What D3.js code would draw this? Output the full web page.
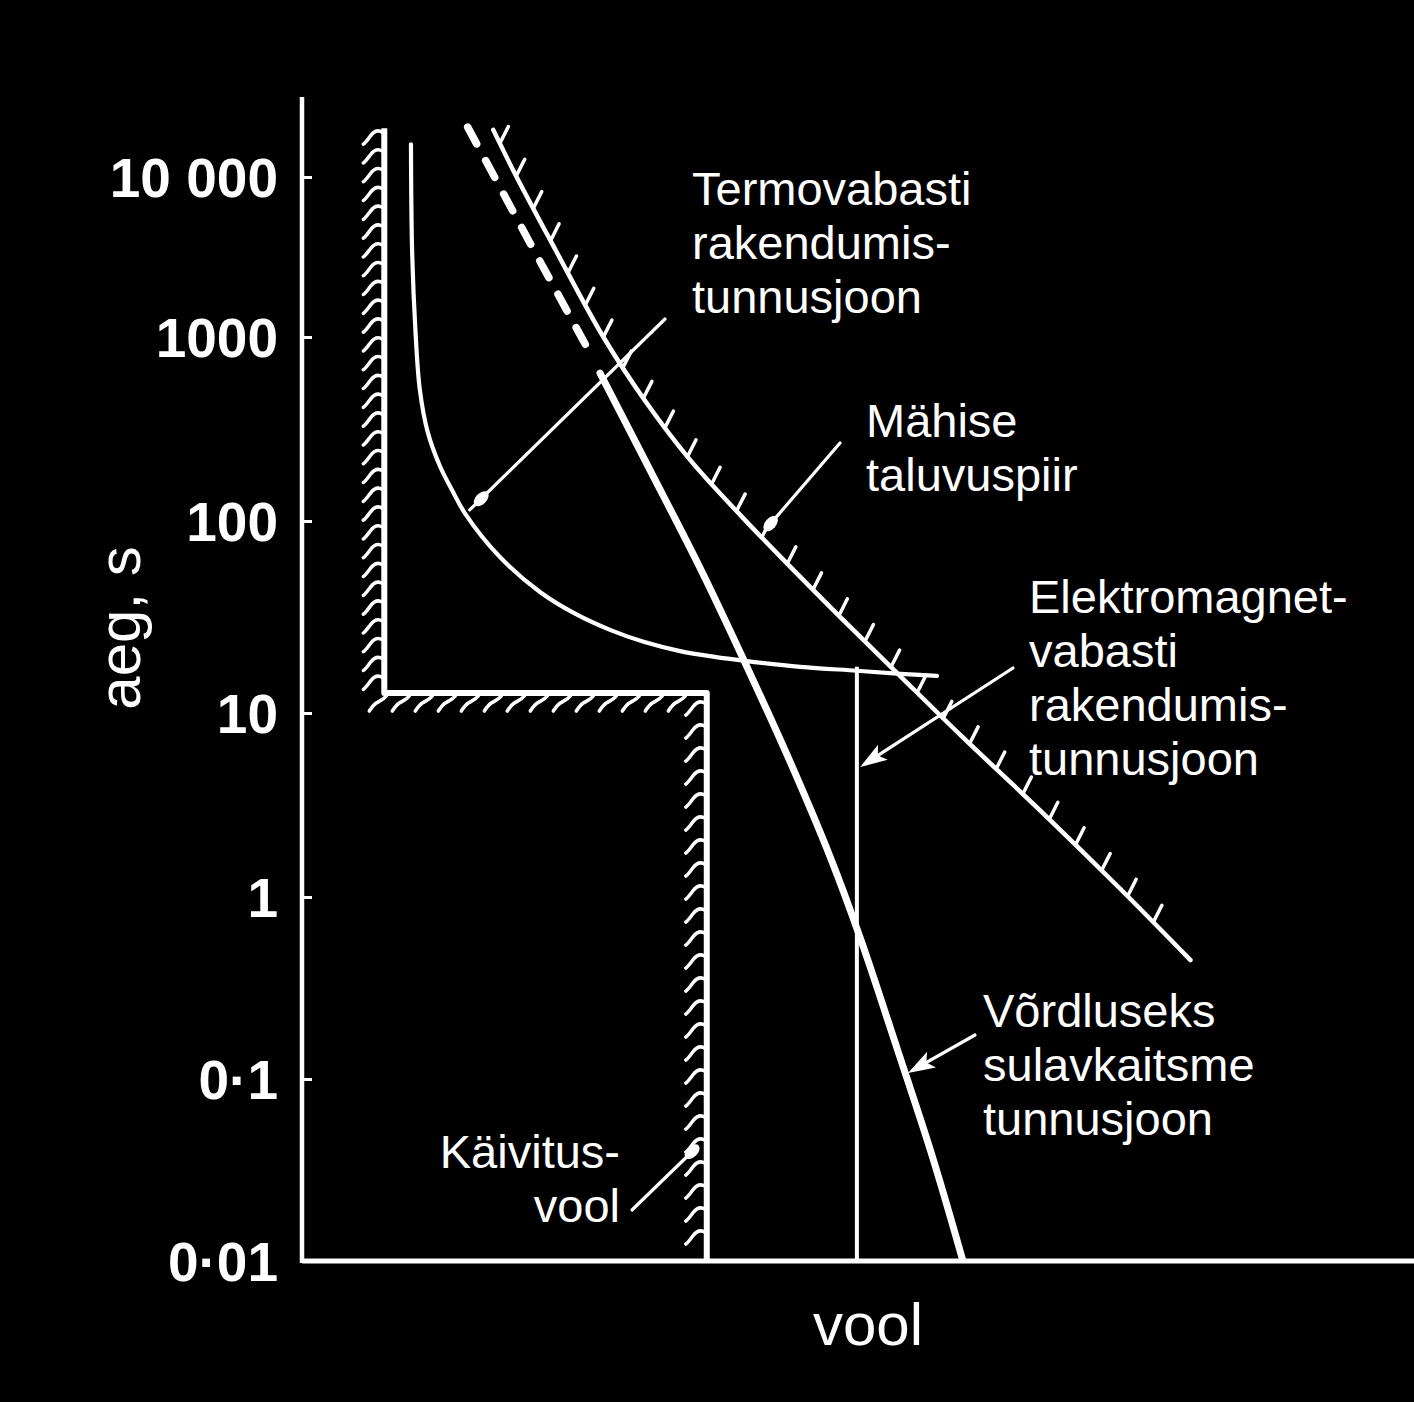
<!DOCTYPE html>
<html><head><meta charset="utf-8">
<script src="https://cdn.jsdelivr.net/npm/d3@7"></script>
<style>body{margin:0;background:#000}svg{display:block}</style>
</head><body><svg id="c" width="1414" height="1402"></svg>
<script>
// ---- data (current in arbitrary units, time in seconds) ----
const tickValues = [0.01, 0.1, 1, 10, 100, 1000, 10000];
const tickLabels = ["0·01", "0·1", "1", "10", "100", "1000", "10 000"];
const tickPixels = [1261, 1079, 897, 713, 521, 337, 177]; // hand-drawn, uneven decades
const axisTopT = 31600;
const currentMax = 100;

// thermal release characteristic (thin)
const thermalI = [9.8, 9.9, 10.2, 10.6, 11.3, 12.4, 13.5, 14.7, 17.8, 21.4, 24.6, 27.7, 30.8, 34.0, 37.1, 39.8, 44.8, 49.9, 53.8, 57.1];
const thermalT = [16000, 3500, 1100, 515, 305, 199, 147, 109, 64.9, 42.7, 32.8, 27.1, 23.4, 21.0, 19.6, 18.7, 17.4, 16.6, 16.0, 15.6];
// fuse characteristic: dashed upper part + thick solid part
const fuseDashI = [14.9, 20.5, 26.1];
const fuseDashT = [20500, 3870, 778];
const fuseI = [26.8, 31.3, 35.8, 39.8, 43.9, 47.5, 50.2, 53.5, 56.7, 59.4];
const fuseT = [637, 189, 56.9, 18.5, 5.42, 1.65, 0.596, 0.148, 0.0373, 0.0102];
// winding withstand limit (hatched)
const windingI = [17.2, 19.3, 22.8, 27.1, 30.8, 34.9, 39.4, 43.3, 48.4, 53.5, 59.2, 67.0, 73.6, 79.9];
const windingT = [19700, 10000, 3500, 1000, 455, 215, 108, 62.7, 31.6, 16.2, 7.6, 2.72, 1.105, 0.45];
// starting current envelope (hatched)
const startI = [7.4, 7.4, 36.4, 36.4];
const startT = [20200, 12.7, 12.7, 0.01];
// electromagnetic release
const emI = [49.9, 49.9];
const emT = [17.4, 0.01];

// annotation anchors on curves (data space)
const leaderTipI = [14.7, 41.5, 50.2, 54.5, 35.6];
const leaderTipT = [109, 87.7, 5.09, 0.108, 0.0428];
const leaderMarks = ["blob", "blob", "arrow", "arrow", "blob"];

const labelTexts = [
  ["Termovabasti", "rakendumis-", "tunnusjoon"],
  ["Mähise", "taluvuspiir"],
  ["Elektromagnet-", "vabasti", "rakendumis-", "tunnusjoon"],
  ["Võrdluseks", "sulavkaitsme", "tunnusjoon"],
  ["Käivitus-", "vool"]
];

// ---- layout ----
const svg = d3.select("#c");
svg.append("rect").attr("width", 1414).attr("height", 1402).attr("fill", "#000");
const FONT = "'Liberation Sans', Arial, Helvetica, sans-serif";

const x = d3.scaleLinear().domain([0, currentMax]).range([302, 1414]);
const y = d3.scaleLog().domain(tickValues).range(tickPixels);

const line = d3.line().x(d => x(d[0])).y(d => y(d[1])).curve(d3.curveCatmullRom.alpha(0.5));
const lin = d3.line().x(d => x(d[0])).y(d => y(d[1]));
const zip = (a, b) => a.map((v, i) => [v, b[i]]);

// axes
const yAxis = d3.axisLeft(y).tickValues(tickValues).tickFormat((d, i) => tickLabels[i])
  .tickSizeInner(-10).tickSizeOuter(0).tickPadding(24);
const ag = svg.append("g").attr("transform", `translate(${x(0)},0)`).call(yAxis);
ag.select(".domain").remove();
ag.selectAll(".tick line").attr("stroke", "#fff").attr("stroke-width", 3);
ag.selectAll(".tick text").attr("fill", "#fff").attr("font-family", FONT)
  .attr("font-size", 55).attr("font-weight", "bold").attr("dy", "0.35em");

svg.append("line").attr("x1", x(0)).attr("x2", x(0)).attr("y1", y(axisTopT)).attr("y2", y(0.01) + 2)
  .attr("stroke", "#fff").attr("stroke-width", 4.5);
svg.append("line").attr("x1", x(0)).attr("x2", x(currentMax)).attr("y1", y(0.01)).attr("y2", y(0.01))
  .attr("stroke", "#fff").attr("stroke-width", 5);

svg.append("text").attr("transform", `translate(140,628) rotate(-90)`).attr("text-anchor", "middle")
  .attr("fill", "#fff").attr("font-family", FONT).attr("font-size", 60).text("aeg, s");
svg.append("text").attr("x", 868).attr("y", 1345).attr("text-anchor", "middle")
  .attr("fill", "#fff").attr("font-family", FONT).attr("font-size", 60).text("vool");

// starting current envelope
svg.append("path").attr("d", lin(zip(startI, startT))).attr("fill", "none").attr("stroke", "#fff")
  .attr("stroke-width", 6).attr("stroke-linejoin", "round");
const hg = svg.append("g").attr("stroke", "#fff").attr("stroke-width", 3.5).attr("fill", "none").attr("stroke-linecap", "round");
const bx1 = x(startI[0]), byTop = y(startT[0]), byC = y(startT[1]), bx2 = x(startI[2]), byBot = y(startT[3]);
for (let yy = byTop + 4; yy < byC - 4; yy += 18.8)
  hg.append("path").attr("d", `M${bx1 - 2},${yy} c-5,-3 -9,0 -12,4 s-5,7 -7,8`);
for (let xx = bx1 + 2; xx < bx2 - 4; xx += 23)
  hg.append("path").attr("d", `M${xx},${byC + 3} c-3,4 -7,5 -10,7 s-5,5 -7,8`);
for (let yy = byC + 10; yy < byBot - 12; yy += 23)
  hg.append("path").attr("d", `M${bx2 - 2},${yy} c-5,-3 -9,0 -12,4 s-5,7 -7,8`);

// thermal release curve
svg.append("path").attr("d", line(zip(thermalI, thermalT))).attr("fill", "none").attr("stroke", "#fff")
  .attr("stroke-width", 4.2).attr("stroke-linecap", "round");

// fuse curve
svg.append("path").attr("d", lin(zip(fuseDashI, fuseDashT))).attr("fill", "none").attr("stroke", "#fff")
  .attr("stroke-width", 7.5).attr("stroke-linecap", "round").attr("stroke-dasharray", "19 19");
svg.append("path").attr("d", line(zip(fuseI, fuseT))).attr("fill", "none").attr("stroke", "#fff")
  .attr("stroke-width", 7).attr("stroke-linecap", "round");

// winding limit with hatches
const wp = svg.append("path").attr("d", line(zip(windingI, windingT))).attr("fill", "none").attr("stroke", "#fff")
  .attr("stroke-width", 4.5).attr("stroke-linecap", "round");
const wlen = wp.node().getTotalLength();
const tdx = 0.45, tdy = -0.89, tl = 19;
for (let s = 15; s < wlen - 25; s += 36.6) {
  const p = wp.node().getPointAtLength(s);
  hg.append("path").attr("d", `M${p.x},${p.y} l${tdx * tl},${tdy * tl}`);
}

// electromagnetic release
svg.append("path").attr("d", lin(zip(emI, emT))).attr("fill", "none").attr("stroke", "#fff").attr("stroke-width", 4);

// labels
const labelPos = [
  {x: 692, y: 205, anchor: "start"},
  {x: 866, y: 437, anchor: "start"},
  {x: 1029, y: 613, anchor: "start"},
  {x: 983, y: 1027, anchor: "start"},
  {x: 620, y: 1168, anchor: "end"}
];
const leaderTails = [[665, 319], [840, 443], [1013, 668], [975, 1035], [632, 1210]];
const blobOffsets = [22, 11, 0, 0, 8];
labelTexts.forEach((lines, k) => {
  const t = svg.append("text").attr("fill", "#fff").attr("font-family", FONT).attr("font-size", 47)
    .attr("text-anchor", labelPos[k].anchor);
  lines.forEach((s, i) => t.append("tspan").attr("x", labelPos[k].x).attr("y", labelPos[k].y + i * 54).text(s));

  const tx = x(leaderTipI[k]), ty = y(leaderTipT[k]);
  const [ax, ay] = leaderTails[k];
  const ang = Math.atan2(ty - ay, tx - ax);
  svg.append("line").attr("x1", ax).attr("y1", ay).attr("x2", tx - Math.cos(ang) * 6).attr("y2", ty - Math.sin(ang) * 6)
    .attr("stroke", "#fff").attr("stroke-width", 3.2).attr("stroke-linecap", "round");
  if (leaderMarks[k] === "arrow") {
    svg.append("path").attr("d", "M0,0 L-27,-9 L-21,0 L-27,9 Z").attr("fill", "#fff")
      .attr("transform", `translate(${tx},${ty}) rotate(${ang * 180 / Math.PI})`);
  } else {
    const off = blobOffsets[k];
    svg.append("ellipse").attr("rx", 9).attr("ry", 5.5).attr("fill", "#fff")
      .attr("transform", `translate(${tx - Math.cos(ang) * off},${ty - Math.sin(ang) * off}) rotate(${ang * 180 / Math.PI})`);
  }
});
</script>
</body></html>
